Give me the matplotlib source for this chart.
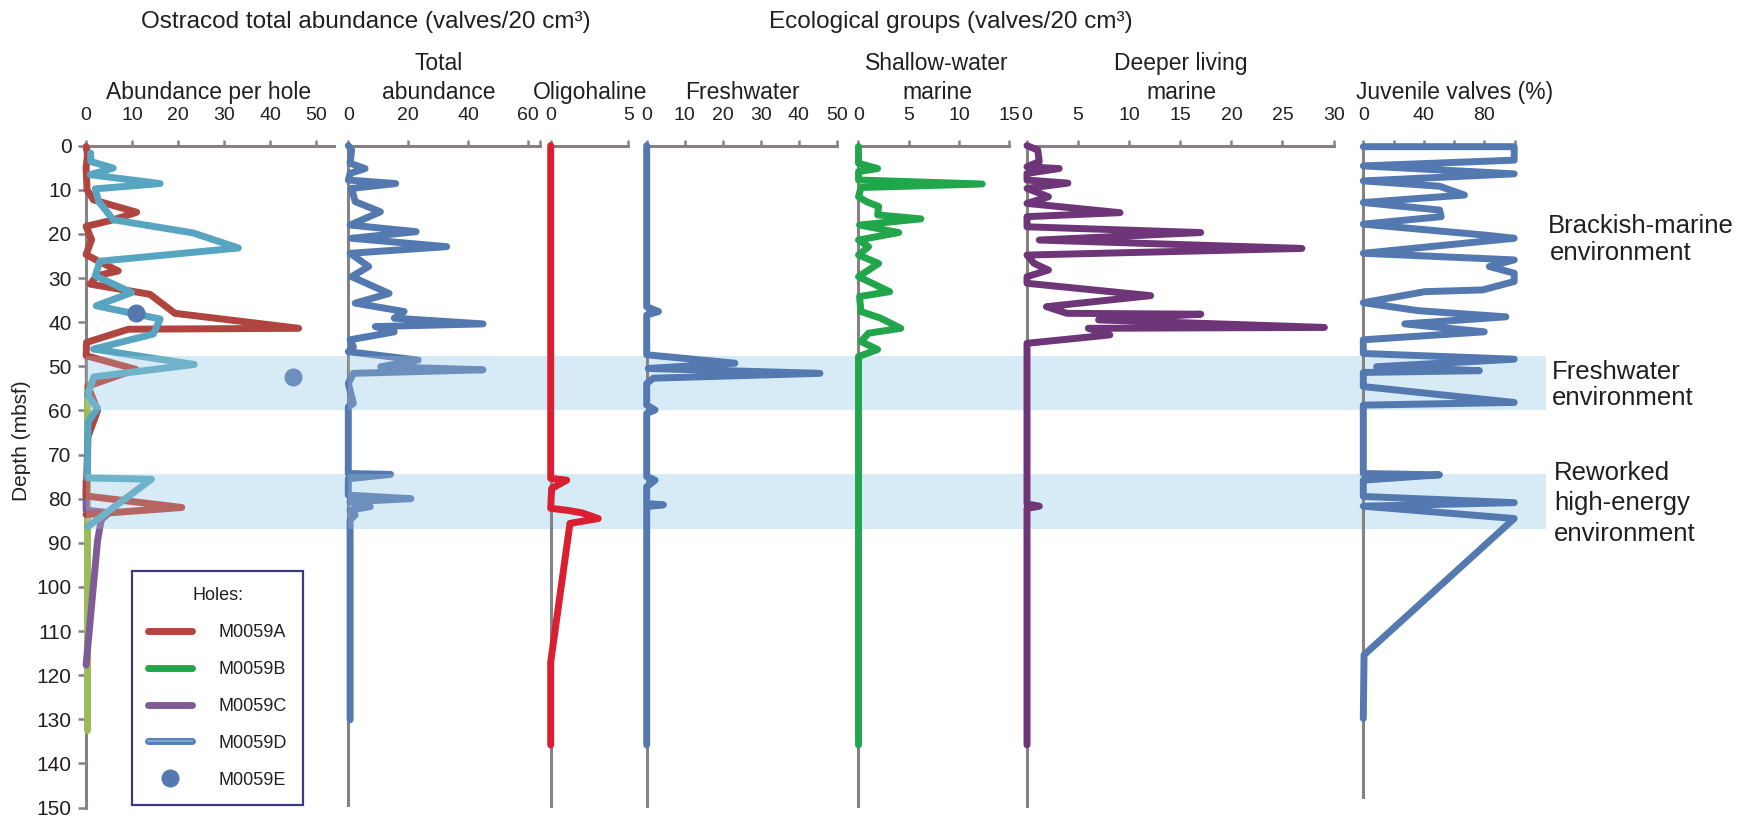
import matplotlib
matplotlib.use("Agg")
import matplotlib.pyplot as plt
import matplotlib.patheffects as pe
from matplotlib.lines import Line2D
from matplotlib.patches import Rectangle
from matplotlib.transforms import blended_transform_factory

plt.rcParams['font.family'] = ['Liberation Sans', 'DejaVu Sans']
plt.rcParams['text.color'] = '#231f20'
plt.rcParams['xtick.color'] = '#231f20'
plt.rcParams['ytick.color'] = '#231f20'

# ---- abundance per hole (valves/20 cm3) vs depth (mbsf) ----
hole_a_depth = [0.2, 2, 5, 10, 12.3, 15.1, 16.8, 18.3, 21.3, 24.7, 26.2, 28.4, 29.5, 31.4,
                33.7, 38.0, 41.4, 41.6, 44.6, 47.6, 50.7, 54.5, 60.0, 66.0, 79.4, 82.0, 83.6]
hole_a_val = [0, 0.3, 0, 0.2, 1.6, 11, 6, 0, 1.2, 0, 2.7, 7, 2.3, 0.9,
              13.9, 19.3, 46.2, 9.2, 0.1, 0, 10.8, 0.4, 2.5, 0.4, 0, 20.8, 0]

hole_b_depth = [55.0, 132.4]
hole_b_val = [0.3, 0.3]

hole_c_depth = [76.0, 82.6, 83.2, 84.8, 89.4, 117.7]
hole_c_val = [0, 0, 5.0, 3.3, 2.5, 0]

hole_d_depth = [1.7, 3.6, 5.1, 6.6, 8.6, 9.8, 12.6, 16.8, 19.8, 23.2, 26.2, 29.5, 33.3,
                36.3, 39.3, 42.7, 46.1, 49.6, 52.4, 56.5, 59.5, 62.7, 75.3, 75.6, 86.3]
hole_d_val = [1.0, 1.0, 5.9, 0.9, 16.1, 2.0, 2.7, 5.9, 23.3, 33.1, 3.0, 2.0, 9.9,
              2.2, 16.1, 14.6, 1.6, 23.5, 1.7, 0.3, 2.5, 0.4, 0.3, 14.2, 0.4]

hole_e_depth = [38.0, 52.4]
hole_e_val = [10.9, 45.0]

# ---- total abundance ----
total_depth = [0, 1.0, 4.0, 5.2, 6.3, 7.8, 8.6, 9.7, 12.7, 15.0, 18.0, 19.5, 21.0, 22.9,
               24.4, 27.4, 29.7, 33.5, 35.7, 37.6, 39.1, 40.4, 41.0, 42.2, 44.0, 45.6, 46.7,
               48.6, 50.1, 50.8, 51.6, 53.9, 58.4, 59.2, 74.3, 74.5, 75.5, 79.2, 80.0, 80.7,
               81.8, 82.6, 83.7, 84.8, 130.1]
total_val = [0, 1.1, 0.6, 5.6, 0.6, 0, 15.8, 1.1, 2.3, 10.7, 0.6, 22.6, 1.1, 32.8,
             0.6, 6.8, 1.1, 13.6, 2.3, 18.6, 15.3, 44.9, 9.0, 15.3, 0.6, 1.7, 0,
             23.3, 10.8, 44.9, 1.7, 0, 1.7, 0, 0, 14.1, 0, 0, 20.9, 0.6,
             7.3, 0.6, 2.3, 0.6, 0.6]

# ---- ecological groups ----
oligo_depth = [0, 75.4, 75.8, 77.7, 82.2, 82.6, 83.2, 84.5, 85.6, 117.0, 135.8]
oligo_val = [0, 0, 1.03, 0.06, 0, 1.0, 2.0, 3.06, 1.24, 0, 0]

fresh_depth = [0, 36.5, 37.6, 38.4, 47.4, 49.3, 50.5, 51.6, 52.7, 53.9, 58.8, 59.9, 60.7,
               75.0, 75.8, 77.3, 81.1, 81.4, 81.8, 135.8]
fresh_val = [0, 0, 3.1, 0, 0, 23.2, 0.4, 45.6, 1.75, 0, 0, 2.2, 0,
             0, 2.2, 0, 0, 4.4, 0, 0]

shallow_depth = [0.2, 4.0, 5.2, 5.9, 7.8, 8.7, 9.5, 11.6, 12.7, 13.8, 15.7, 16.6, 18.0,
                 19.7, 21.4, 22.9, 24.8, 26.7, 29.7, 33.1, 34.2, 37.6, 39.1, 41.4, 42.5,
                 44.4, 46.2, 47.8, 135.8]
shallow_val = [0, 0, 1.9, 0, 0, 12.3, 0.25, 0, 0.8, 2.0, 1.9, 6.2, 0.1,
               4.0, 0, 1.0, 0, 2.0, 0, 3.1, 0.1, 0.25, 2.2, 4.2, 1.0,
               0.25, 1.9, 0, 0]

deep_depth = [0, 1.0, 3.6, 4.8, 5.2, 6.3, 7.8, 8.5, 9.7, 11.6, 13.1, 15.2, 16.1, 18.4,
              19.7, 21.4, 23.3, 24.8, 26.7, 28.2, 29.7, 31.2, 34.0, 36.5, 38.0, 38.2,
              39.5, 41.2, 41.4, 42.9, 44.8, 81.2, 81.7, 82.2, 135.8]
deep_val = [0, 1.05, 1.2, 0, 3.15, 0, 0, 4.0, 0, 2.1, 0, 9.1, 0, 0,
            17.0, 1.2, 26.9, 0, 0.7, 2.1, 0, 0, 12.1, 1.9, 3.9, 17.0,
            7.0, 29.1, 6.0, 8.1, 0, 0, 1.2, 0, 0]

juv_depth = [0.24, 0.24, 3.3, 4.6, 6.4, 8.0, 9.2, 11.2, 12.9, 14.6, 16.1, 17.8, 20.3,
             21.0, 24.4, 25.9, 27.4, 28.9, 30.8, 32.7, 33.1, 35.6, 37.4, 38.8, 40.4,
             42.2, 44.0, 47.1, 48.4, 50.1, 51.0, 51.4, 54.6, 58.2, 58.8, 74.3, 74.6,
             75.8, 79.5, 80.9, 81.7, 84.5, 115.4, 129.8]
juv_val = [0, 99.8, 99.8, 0, 99.8, 0, 50.4, 66.9, 0, 50.4, 51.5, 0, 81.1,
           99.8, 0, 99.8, 83.3, 99.8, 99.8, 78.9, 40.6, 0, 36.2, 94.3, 27.4,
           80.0, 0, 0, 99.8, 8.8, 76.8, 0, 0, 99.8, 0, 0, 50.4,
           0, 0, 99.8, 0, 99.8, 0.5, 0]

# environment intervals (mbsf)
freshwater_env = (47.7, 60.0)
reworked_env = (74.4, 86.8)

W, H = 1756, 822
GREY = '#868281'
BAND = '#d6ebf6'
LW = 5.0

fig = plt.figure(figsize=(W / 100, H / 100), dpi=100)
fig.patch.set_facecolor('white')

TOP_PX, BOT_PX = 145.6, 807.6


def panel(x0, x1, xmax, ticks, labels, spine_end=150, depth_ticks=False):
    ax = fig.add_axes([x0 / W, (H - BOT_PX) / H, (x1 - x0) / W, (BOT_PX - TOP_PX) / H])
    ax.patch.set_alpha(0)
    ax.set_xlim(0, xmax)
    ax.set_ylim(150, 0)
    ax.spines['right'].set_visible(False)
    ax.spines['bottom'].set_visible(False)
    for s in ('top', 'left'):
        ax.spines[s].set_color(GREY)
        ax.spines[s].set_linewidth(2.2)
    ax.spines['left'].set_bounds(0, spine_end)
    ax.xaxis.tick_top()
    ax.set_xticks(ticks, labels)
    ax.tick_params(axis='x', direction='out', length=4.5, width=1.8, color=GREY,
                   pad=11, labelsize=14)
    if depth_ticks:
        ax.set_yticks(range(0, 151, 10))
        ax.tick_params(axis='y', direction='out', length=5.5, width=1.8, color=GREY,
                       pad=5, labelsize=15)
    else:
        ax.set_yticks([])
    return ax


def trace(ax, x, y, color, lw=LW, z=3):
    ax.plot(x, y, color=color, lw=lw, solid_capstyle='round', solid_joinstyle='round',
            clip_on=False, zorder=z)


ax1 = panel(86.1, 334.5, 54, range(0, 51, 10), [str(v) for v in range(0, 51, 10)],
            depth_ticks=True)
ax2 = panel(348.3, 540.3, 64, [0, 20, 40, 60, 64], ['0', '20', '40', '60', ''],
            spine_end=149.4)
ax3 = panel(550.7, 628.4, 5, [0, 5], ['0', '5'], spine_end=149.6)
ax4 = panel(646.7, 836.7, 50, range(0, 51, 10), [str(v) for v in range(0, 51, 10)],
            spine_end=149.6)
ax5 = panel(858.5, 1009.4, 15, [0, 5, 10, 15], ['0', '5', '10', '15'], spine_end=149.6)
ax6 = panel(1027.0, 1333.6, 30, range(0, 31, 5), [str(v) for v in range(0, 31, 5)],
            spine_end=149.6)
ax7 = panel(1363.3, 1514.5, 100, range(0, 101, 20), ['0', '', '40', '', '80', ''],
            spine_end=147.5)

# environment bands run across all panels
band_tr = blended_transform_factory(fig.transFigure, ax1.transData)
for top, bot in (freshwater_env, reworked_env):
    fig.add_artist(Rectangle((84 / W, top), (1546 - 84) / W, bot - top, transform=band_tr,
                             facecolor=BAND, edgecolor='none', zorder=-1))

# abundance per hole
trace(ax1, hole_b_val, hole_b_depth, '#9bbb59')
trace(ax1, hole_c_val, hole_c_depth, '#7f5c98')
trace(ax1, hole_a_val, hole_a_depth, '#b0443f')
trace(ax1, hole_d_val, hole_d_depth, '#57a5c0')
ax1.plot(hole_e_val, hole_e_depth, 'o', ms=12, color='#5479b0', clip_on=False, zorder=4)

trace(ax2, total_val, total_depth, '#5479b0')
for ax in (ax1, ax2):
    for top, bot in (freshwater_env, reworked_env):
        ax.axhspan(top, bot, color=BAND, alpha=0.2, lw=0, zorder=5)

trace(ax3, oligo_val, oligo_depth, '#d91f30')
trace(ax4, fresh_val, fresh_depth, '#5479b0')
trace(ax5, shallow_val, shallow_depth, '#22a64b')
trace(ax6, deep_val, deep_depth, '#6e3678')
trace(ax7, juv_val, juv_depth, '#5479b0')


def ftext(x, y, s, size, ha='center', **kw):
    fig.text(x / W, 1 - y / H, s, fontsize=size, ha=ha, va='baseline', **kw)


ftext(366, 28, 'Ostracod total abundance (valves/20 cm³)', 17.5)
ftext(951, 28, 'Ecological groups (valves/20 cm³)', 17.5)

ftext(208.6, 99, 'Abundance per hole', 16.5)
ftext(439, 70, 'Total', 16.5)
ftext(439, 99, 'abundance', 16.5)
ftext(590, 99, 'Oligohaline', 16.5)
ftext(742.7, 99, 'Freshwater', 16.5)
ftext(937, 70, 'Shallow-water', 16.5)
ftext(937, 99, 'marine', 16.5)
ftext(1181, 70, 'Deeper living', 16.5)
ftext(1181, 99, 'marine', 16.5)
ftext(1455, 99, 'Juvenile valves (%)', 16.5)

ftext(1548, 233, 'Brackish-marine', 18.5, ha='left')
ftext(1550, 260, 'environment', 18.5, ha='left')
ftext(1552, 379, 'Freshwater', 18.5, ha='left')
ftext(1552, 405, 'environment', 18.5, ha='left')
ftext(1554, 480, 'Reworked', 18.5, ha='left')
ftext(1554, 510, 'high-energy', 18.5, ha='left')
ftext(1554, 541, 'environment', 18.5, ha='left')

fig.text(22 / W, 1 - 441 / H, 'Depth (mbsf)', rotation=90, ha='center', va='center',
         fontsize=15)

# legend for the drill holes
handles = [
    Line2D([], [], color='#b5433f', lw=5, solid_capstyle='round'),
    Line2D([], [], color='#22a64b', lw=5, solid_capstyle='round'),
    Line2D([], [], color='#7f5c98', lw=5, solid_capstyle='round'),
    Line2D([], [], color='#7ea5d6', lw=1.5, solid_capstyle='round',
           path_effects=[pe.Stroke(linewidth=5, foreground='#5580ba', capstyle='round'),
                         pe.Normal()]),
    Line2D([], [], ls='none', marker='o', ms=12, color='#5479b0'),
]
labels = ['M0059A', 'M0059B', 'M0059C', 'M0059D', 'M0059E']
leg = fig.legend(handles, labels, title='Holes:', loc='upper left',
                 bbox_to_anchor=(132 / W, 1 - 571 / H), borderaxespad=0,
                 frameon=True, fancybox=False, edgecolor='#3d3a7b', framealpha=1,
                 fontsize=13, title_fontsize=13, handlelength=2.4, handletextpad=1.5,
                 labelspacing=1.1, borderpad=0.9)
leg.get_frame().set_linewidth(1.6)

fig.savefig('out.png', dpi=100, facecolor='white')
